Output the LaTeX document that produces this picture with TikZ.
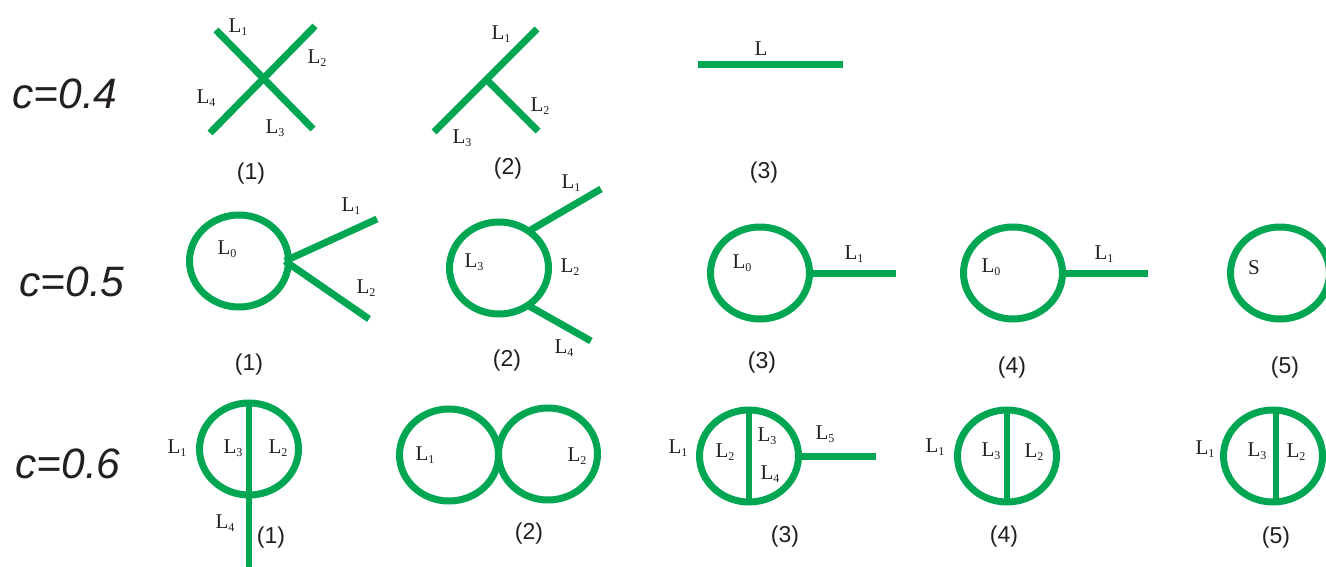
\documentclass[tikz,border=0pt]{standalone}
\usepackage{fontspec}
\setmainfont{Liberation Serif}
\setsansfont{Liberation Sans}
\usepackage{tikz}
\usetikzlibrary{shapes.geometric, positioning}
\definecolor{graphGreen}{HTML}{00A651}
\definecolor{inkGray}{HTML}{231F20}
\newcommand{\Lsub}[1]{L\raisebox{-0.35ex}{\fontsize{12}{12}\selectfont #1}}
\begin{document}
\begin{tikzpicture}[
    x=1pt, y=-1pt,
    loopring/.style={ellipse, draw=graphGreen, line width=7pt, inner sep=0pt, outer sep=0pt,
                     minimum width=99pt, minimum height=92pt},
    wire/.style={draw=graphGreen, line width=7pt},
    chord/.style={draw=graphGreen, line width=6pt},
    lab/.style={font=\fontsize{21}{21}\selectfont, text=inkGray, inner sep=0pt},
    num/.style={font=\sffamily\fontsize{23}{23}\selectfont, text=inkGray, inner sep=0pt, yshift=-1pt},
    rowlab/.style={font=\sffamily\itshape\fontsize{42.5}{42.5}\selectfont, text=inkGray, inner sep=0pt},
]
\useasboundingbox (0,0) rectangle (1326,567);
% row labels
\node[rowlab] (rowA) at (65,94) {c=0.4};
\node[rowlab] (rowB) at (72,282) {c=0.5};
\node[rowlab] (rowC) at (68,464) {c=0.6};
% c=0.4 (1)
\coordinate (aTL) at (216,30);
\coordinate (aBR) at (313,129);
\coordinate (aBL) at (210,133);
\coordinate (aTR) at (315,26);
\draw[wire] (aTL) -- (aBR);
\draw[wire] (aBL) -- (aTR);
\node[lab] (aL1) at (238,27) {\Lsub{1}};
\node[lab] (aL2) at (317,58) {\Lsub{2}};
\node[lab] (aL4) at (206,98) {\Lsub{4}};
\node[lab] (aL3) at (275,128) {\Lsub{3}};
\node[num] (aNum) at (251,173) {(1)};
% c=0.4 (2)
\coordinate (bBL) at (434,132);
\coordinate (bTR) at (537,29);
\coordinate (bMid) at (487,80);
\coordinate (bBR) at (538,131);
\draw[wire] (bBL) -- (bTR);
\draw[wire] (bMid) -- (bBR);
\node[lab] (bL1) at (501,34) {\Lsub{1}};
\node[lab] (bL2) at (540,106) {\Lsub{2}};
\node[lab] (bL3) at (462,138) {\Lsub{3}};
\node[num] (bNum) at (508,168) {(2)};
% c=0.4 (3)
\coordinate (cA) at (698,65);
\coordinate (cB) at (843,65);
\draw[wire] (cA) -- (cB);
\node[lab] (cL) at (761,49) {L};
\node[num] (cNum) at (764,172) {(3)};
% c=0.5 (1)
\node[loopring] (dRing) at (239,261) {};
\coordinate (dJoin) at (285,261);
\coordinate (dUp) at (377,219);
\coordinate (dDown) at (369,319);
\draw[wire] (dJoin) -- (dUp);
\draw[wire] (dJoin) -- (dDown);
\node[lab] (dL0) at (227,249) {\Lsub{0}};
\node[lab] (dL1) at (351,206) {\Lsub{1}};
\node[lab] (dL2) at (366,288) {\Lsub{2}};
\node[num] (dNum) at (249,364) {(1)};
% c=0.5 (2)
\node[loopring] (eRing) at (499,268) {};
\coordinate (eUpA) at (529,231);
\coordinate (eUpB) at (601,189);
\coordinate (eDnA) at (529,306);
\coordinate (eDnB) at (591,341);
\draw[wire] (eUpA) -- (eUpB);
\draw[wire] (eDnA) -- (eDnB);
\node[lab] (eL1) at (571,183) {\Lsub{1}};
\node[lab] (eL2) at (570,267) {\Lsub{2}};
\node[lab] (eL3) at (474,262) {\Lsub{3}};
\node[lab] (eL4) at (564,348) {\Lsub{4}};
\node[num] (eNum) at (507,360) {(2)};
% c=0.5 (3)
\node[loopring] (fRing) at (760,273) {};
\coordinate (fEnd) at (896,273);
\draw[wire] (fRing.east) -- (fEnd);
\node[lab] (fL0) at (742,263) {\Lsub{0}};
\node[lab] (fL1) at (854,254) {\Lsub{1}};
\node[num] (fNum) at (762,362) {(3)};
% c=0.5 (4)
\node[loopring] (gRing) at (1013,273) {};
\coordinate (gEnd) at (1148,273);
\draw[wire] (gRing.east) -- (gEnd);
\node[lab] (gL0) at (991,267) {\Lsub{0}};
\node[lab] (gL1) at (1104,254) {\Lsub{1}};
\node[num] (gNum) at (1012,367) {(4)};
% c=0.5 (5)
\node[loopring] (hRing) at (1280,273) {};
\node[lab] (hS) at (1254,268) {S};
\node[num] (hNum) at (1285,367) {(5)};
% c=0.6 (1)
\node[loopring] (iRing) at (249,449) {};
\coordinate (iEnd) at (249,567);
\draw[chord] (iRing.north) -- (iEnd);
\node[lab] (iL1) at (177,448) {\Lsub{1}};
\node[lab] (iL3) at (233,448) {\Lsub{3}};
\node[lab] (iL2) at (278,448) {\Lsub{2}};
\node[lab] (iL4) at (225,523) {\Lsub{4}};
\node[num] (iNum) at (271,537) {(1)};
% c=0.6 (2)
\node[loopring] (jRingA) at (449,455) {};
\node[loopring] (jRingB) at (548,454) {};
\node[lab] (jL1) at (425,455) {\Lsub{1}};
\node[lab] (jL2) at (577,456) {\Lsub{2}};
\node[num] (jNum) at (529,533) {(2)};
% c=0.6 (3)
\node[loopring] (kRing) at (749,456) {};
\coordinate (kEnd) at (876,456);
\draw[chord] (kRing.north) -- (kRing.south);
\draw[wire] (kRing.east) -- (kEnd);
\node[lab] (kL1) at (678,448) {\Lsub{1}};
\node[lab] (kL2) at (725,452) {\Lsub{2}};
\node[lab] (kL3) at (767,436) {\Lsub{3}};
\node[lab] (kL4) at (770,474) {\Lsub{4}};
\node[lab] (kL5) at (825,434) {\Lsub{5}};
\node[num] (kNum) at (785,536) {(3)};
% c=0.6 (4)
\node[loopring] (mRing) at (1007,456) {};
\draw[chord] (mRing.north) -- (mRing.south);
\node[lab] (mL1) at (935,447) {\Lsub{1}};
\node[lab] (mL3) at (991,451) {\Lsub{3}};
\node[lab] (mL2) at (1034,452) {\Lsub{2}};
\node[num] (mNum) at (1004,536) {(4)};
% c=0.6 (5)
\node[loopring] (nRing) at (1273,456) {};
\coordinate (nTop) at (1276,408);
\coordinate (nBot) at (1276,503);
\draw[chord] (nTop) -- (nBot);
\node[lab] (nL1) at (1205,449) {\Lsub{1}};
\node[lab] (nL3) at (1257,451) {\Lsub{3}};
\node[lab] (nL2) at (1296,452) {\Lsub{2}};
\node[num] (nNum) at (1276,537) {(5)};
\end{tikzpicture}
\end{document}
